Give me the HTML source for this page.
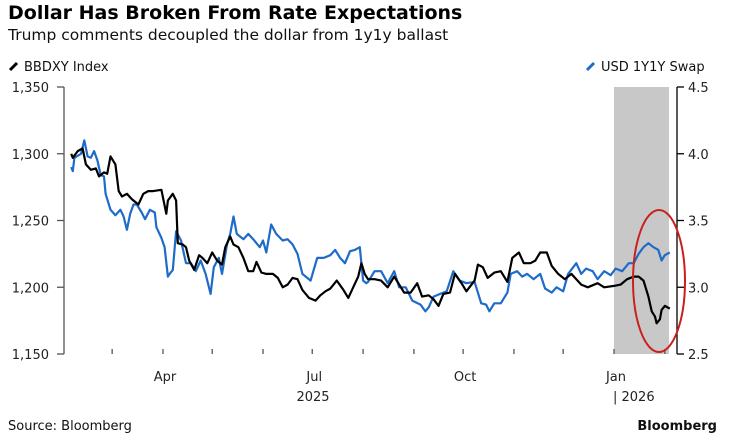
<!DOCTYPE html>
<html><head><meta charset="utf-8"><style>
body{margin:0;background:#fff;font-family:"Liberation Sans",sans-serif;}
svg text{font-family:"DejaVu Sans","Liberation Sans",sans-serif;}
</style></head><body>
<svg id="c" width="735" height="440" xmlns="http://www.w3.org/2000/svg">
<text x="8" y="19" font-size="19" font-weight="bold" fill="#000">Dollar Has Broken From Rate Expectations</text>
<text x="8" y="40" font-size="15.5" fill="#111">Trump comments decoupled the dollar from 1y1y ballast</text>
<g><line x1="10" y1="70" x2="17" y2="63" stroke="#000" stroke-width="3"/><text x="24" y="71" font-size="13" fill="#111">BBDXY Index</text></g>
<g><line x1="587" y1="70" x2="594" y2="63" stroke="#1f6bc9" stroke-width="3"/><text x="601" y="71" font-size="13" fill="#111">USD 1Y1Y Swap</text></g>
<rect x="614" y="87" width="55" height="267" fill="#c8c8c8"/>
<g id="axes"></g>
<g id="series"></g>
<ellipse cx="659" cy="281" rx="26" ry="71" fill="none" stroke="#c8201e" stroke-width="2"/>
<text x="8" y="430" font-size="13" fill="#111">Source: Bloomberg</text>
<text x="717" y="430" font-size="13" font-weight="bold" fill="#111" text-anchor="end">Bloomberg</text>
</svg>
<script>
const leftTicks=[1150,1200,1250,1300,1350];
const leftTickLabels=["1,150","1,200","1,250","1,300","1,350"];
const rightTicks=[2.5,3.0,3.5,4.0,4.5];
const rightTickLabels=["2.5","3.0","3.5","4.0","4.5"];
const monthTickDays=[28,59,89,120,150,181,212,242,273,303,334,365];
const monthLabels=[["Apr",59],["Jul",150],["Oct",242],["Jan",334]];
const blackDays=[3,4,7,10,12,15,18,20,23,25,27,30,32,34,37,40,44,47,50,53,58,61,62,65,67,68,71,73,75,78,81,83,86,89,92,95,97,100,102,105,108,111,114,116,119,122,126,129,132,135,138,141,144,148,152,155,158,161,165,169,172,175,178,180,182,184,188,192,196,200,203,206,210,214,217,221,224,227,230,234,237,241,244,249,251,254,257,261,265,269,272,276,279,283,286,289,293,296,300,304,308,314,318,324,328,334,338,342,346,349,352,355,357,359,360,362,363,365,368];
const blackValues=[1300,1297,1302,1304,1292,1288,1289,1283,1286,1285,1298,1292,1272,1268,1270,1266,1262,1270,1272,1272,1273,1255,1265,1270,1265,1233,1232,1230,1220,1213,1224,1222,1218,1226,1220,1217,1230,1238,1232,1230,1222,1212,1212,1219,1211,1210,1210,1207,1200,1202,1207,1206,1198,1192,1190,1194,1197,1199,1205,1198,1192,1200,1208,1218,1210,1206,1206,1205,1200,1208,1202,1196,1196,1203,1193,1194,1191,1186,1195,1196,1210,1203,1197,1205,1217,1215,1207,1211,1212,1204,1222,1226,1218,1218,1220,1226,1226,1216,1210,1206,1210,1202,1200,1203,1200,1201,1202,1206,1208,1208,1205,1193,1182,1178,1173,1176,1183,1186,1184];
const blueDays=[3,4,5,9,11,13,15,17,19,21,23,24,27,30,33,35,37,39,41,43,46,48,51,54,55,58,60,62,63,65,67,70,73,76,79,82,85,88,90,93,95,98,100,102,104,108,111,114,118,120,122,125,128,132,135,138,141,144,149,153,157,161,164,167,170,173,176,179,181,183,184,188,192,196,200,203,207,211,216,219,221,224,228,232,236,240,244,249,253,256,258,261,265,269,271,275,278,281,285,289,292,296,299,303,306,311,314,317,321,324,328,332,335,339,343,346,349,352,355,358,361,363,365,368];
const blueValues=[3.90,3.87,3.97,4.00,4.10,3.98,3.97,4.02,3.95,3.84,3.83,3.70,3.58,3.54,3.58,3.53,3.43,3.55,3.62,3.62,3.56,3.51,3.58,3.56,3.45,3.37,3.30,3.08,3.10,3.13,3.42,3.35,3.18,3.18,3.12,3.20,3.10,2.95,3.15,3.22,3.10,3.32,3.40,3.53,3.40,3.36,3.40,3.36,3.30,3.35,3.26,3.47,3.40,3.35,3.36,3.32,3.25,3.10,3.05,3.22,3.22,3.24,3.28,3.22,3.18,3.27,3.28,3.30,3.05,3.03,3.04,3.12,3.12,3.03,3.12,3.00,3.00,2.90,2.87,2.82,2.85,2.93,2.95,2.97,3.12,3.05,3.03,3.04,2.88,2.87,2.82,2.88,2.88,2.96,3.10,3.12,3.08,3.10,3.06,3.10,2.99,2.96,3.00,2.97,3.10,3.18,3.10,3.14,3.12,3.06,3.12,3.09,3.14,3.12,3.18,3.18,3.25,3.30,3.33,3.30,3.28,3.20,3.24,3.26];

const NS="http://www.w3.org/2000/svg";
const plotTop=87,plotBot=354;
const xOf=d=>163+(d-59)*1.64;
const yL=v=>plotBot-(v-1150)/200*(plotBot-plotTop);
const yR=v=>plotBot-(v-2.5)/2*(plotBot-plotTop);
const axesG=document.getElementById('axes'),seriesG=document.getElementById('series');
function mk(tag,attrs,parent){const e=document.createElementNS(NS,tag);for(const k in attrs)e.setAttribute(k,attrs[k]);parent.appendChild(e);return e;}
let a=mk('line',{x1:64,y1:plotTop,x2:64,y2:plotBot,stroke:'#555','stroke-width':1.3},axesG);


a=mk('line',{x1:677,y1:plotTop,x2:677,y2:plotBot,stroke:'#000','stroke-width':1.3},axesG);


leftTicks.forEach((v,i)=>{const y=yL(v);
 mk('line',{x1:57,y1:y,x2:64,y2:y,stroke:'#555','stroke-width':1.3},axesG);
 const t=mk('text',{x:49,y:y+5,'font-size':13,'text-anchor':'end',fill:'#222'},axesG);t.textContent=leftTickLabels[i];
 
 });
rightTicks.forEach((v,i)=>{const y=yR(v);
 mk('line',{x1:677,y1:y,x2:684,y2:y,stroke:'#000','stroke-width':1.3},axesG);
 const t=mk('text',{x:688,y:y+5,'font-size':13,fill:'#222'},axesG);t.textContent=rightTickLabels[i];
 
 });
monthTickDays.forEach(d=>{const x=xOf(d);mk('line',{x1:x,y1:plotBot-5,x2:x,y2:plotBot,stroke:'#555','stroke-width':1.3},axesG);});
monthLabels.forEach(m=>{const t=mk('text',{x:xOf(m[1])+2,y:381,'font-size':13,'text-anchor':'middle',fill:'#222'},axesG);t.textContent=m[0];
 
 });
let t=mk('text',{x:313,y:401,'font-size':13,'text-anchor':'middle',fill:'#222'},axesG);t.textContent='2025';


t=mk('text',{x:613,y:401,'font-size':13,fill:'#222'},axesG);t.textContent='| 2026';


let p=mk('path',{d:blueDays.map((d,i)=>(i?'L':'M')+xOf(d).toFixed(1)+','+yR(blueValues[i]).toFixed(1)).join(''),fill:'none',stroke:'#1f6bc9','stroke-width':2.2,'stroke-linejoin':'round'},seriesG);


p=mk('path',{d:blackDays.map((d,i)=>(i?'L':'M')+xOf(d).toFixed(1)+','+yL(blackValues[i]).toFixed(1)).join(''),fill:'none',stroke:'#000','stroke-width':2.2,'stroke-linejoin':'round'},seriesG);


</script>
</body></html>
